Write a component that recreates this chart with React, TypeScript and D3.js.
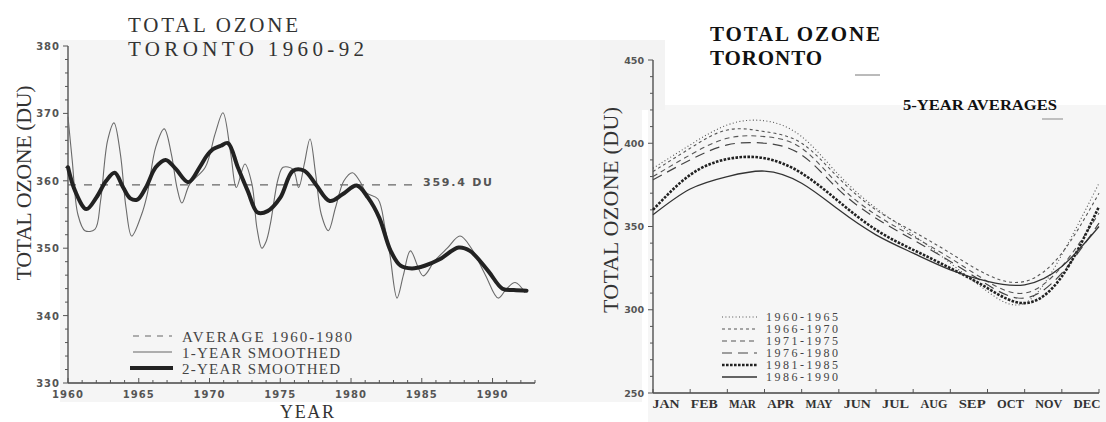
import React from 'react';
import * as d3 from 'd3';

// ---------- LEFT CHART DATA (Total ozone, Toronto 1960-92) ----------
const thinYears = [1960.0, 1960.3, 1960.7, 1961.2, 1961.9, 1962.3, 1962.8, 1963.25, 1963.7, 1964.1, 1964.5, 1965.2, 1965.6, 1966.2, 1966.8, 1967.3, 1967.7, 1968.05, 1968.6, 1969.7, 1970.4, 1970.95, 1971.5, 1971.9, 1972.5, 1973.0, 1973.35, 1973.7, 1974.0, 1974.3, 1974.85, 1975.2, 1975.9, 1976.3, 1976.7, 1977.1, 1977.5, 1977.9, 1978.4, 1978.9, 1979.5, 1980.1, 1980.6, 1981.1, 1981.9, 1982.4, 1982.75, 1983.25, 1983.7, 1984.2, 1985.1, 1985.9, 1986.8, 1987.7, 1988.5, 1989.5, 1990.4, 1991.0, 1991.6, 1992.3];
const thinValues = [369.5, 363, 355, 352.6, 352.8, 357, 366, 368.6, 364, 356, 351.8, 355, 358, 365, 367.7, 364, 359, 356.7, 359.5, 362, 367, 370.1, 364, 359, 362.5, 359.5, 353, 350, 351, 353.6, 360.3, 362, 361.7, 359, 362.5, 366.2, 361, 355, 352.6, 356, 360, 361.2, 360, 358.2, 357.3, 353, 349, 342.6, 346, 349.6, 345.9, 348.1, 350, 351.8, 350, 346, 342.6, 344, 344.9, 343.4];

const thickYears = [1960.0, 1960.5, 1961.3, 1962.0, 1962.7, 1963.3, 1963.9, 1964.4, 1964.9, 1965.5, 1966.2, 1966.9, 1967.6, 1968.5, 1969.3, 1969.8, 1970.25, 1970.8, 1971.3, 1972.0, 1972.7, 1973.4, 1974.1, 1975.0, 1975.9, 1976.7, 1977.5, 1978.5, 1979.4, 1980.4, 1981.2, 1982.0, 1982.8, 1983.5, 1984.3, 1985.2, 1986.3, 1987.6, 1988.4, 1989.7, 1990.7, 1991.5, 1992.4];
const thickValues = [362, 358.5, 355.8, 357.5, 360, 361.2, 359, 357.4, 357.2, 359, 362, 363.1, 361.8, 359.8, 362, 363.7, 364.7, 365.2, 365.6, 362, 358.5, 355.3, 355.5, 357.5, 361.5, 361.5, 359.5, 357, 358, 359.3, 357.5, 354.5, 349.6, 347.4, 347, 347.4, 348.4, 350.1, 349.6, 346.6, 344, 343.8, 343.7];

const averageValue = 359.4;
const averageYears = [1960, 1980];
const leftYTicks = [330, 340, 350, 360, 370, 380];
const leftXTicks = [1960, 1965, 1970, 1975, 1980, 1985, 1990];
const leftLegend = ['AVERAGE 1960-1980', '1-YEAR SMOOTHED', '2-YEAR SMOOTHED'];

// ---------- RIGHT CHART DATA (5-year averages by month) ----------
const monthLabels = ['JAN', 'FEB', 'MAR', 'APR', 'MAY', 'JUN', 'JUL', 'AUG', 'SEP', 'OCT', 'NOV', 'DEC'];
const monthPos = [0, 1, 2, 3, 4, 5, 6, 7, 8, 9, 10, 11, 12];
const avg1960_65 = [385, 399, 411, 413.5, 404, 381, 361, 345, 328, 311, 304, 333, 376];
const avg1966_70 = [383, 397, 408, 407, 400, 379, 360, 347, 334, 321, 317, 334, 370];
const avg1971_75 = [380, 393, 403, 404, 397, 375, 357, 344, 331, 317, 310, 326, 358];
const avg1976_80 = [378, 390, 399, 400, 393, 372, 355, 342, 329, 315, 307, 322, 352];
const avg1981_85 = [360, 381, 390.5, 391, 382, 365, 348, 336, 325, 313, 304, 320, 362];
const avg1986_90 = [357, 372.5, 380, 383.3, 376, 360, 345, 334, 324, 317, 315, 326, 350];
const rightSeriesNames = ['1960-1965', '1966-1970', '1971-1975', '1976-1980', '1981-1985', '1986-1990'];
const rightYTicks = [250, 300, 350, 400, 450];

const seriesData = [avg1960_65, avg1966_70, avg1971_75, avg1976_80, avg1981_85, avg1986_90];
const seriesStyle = [
  { dash: '1,2.4', width: 1.1, color: '#555' },
  { dash: '3,3', width: 1.1, color: '#555' },
  { dash: '5,4', width: 1.1, color: '#555' },
  { dash: '10,6', width: 1.2, color: '#444' },
  { dash: '2.6,1.4', width: 2.6, color: '#222' },
  { dash: null, width: 1.3, color: '#333' },
];

export default function App() {
  // left scales
  const lx = d3.scaleLinear().domain([1960, 1993]).range([68, 535]);
  const ly = d3.scaleLinear().domain([330, 380]).range([383, 46]);
  const leftLine = d3.line<[number, number]>().x(d => lx(d[0])).y(d => ly(d[1])).curve(d3.curveCatmullRom.alpha(0.5));
  const thinPath = leftLine(thinYears.map((y, i) => [y, thinValues[i]]) as [number, number][]) || '';
  const thickPath = leftLine(thickYears.map((y, i) => [y, thickValues[i]]) as [number, number][]) || '';
  const minorX = d3.range(1960, 1994, 1);
  const minorYL = d3.range(330, 381, 2);

  // right scales
  const rx = d3.scaleLinear().domain([0, 12]).range([653, 1099]);
  const ry = d3.scaleLinear().domain([250, 450]).range([393, 60]);
  const rLabel = d3.scalePoint<string>().domain(monthLabels).range([666, 1087]);
  const rightLine = d3.line<number>().x((_, i) => rx(monthPos[i])).y(d => ry(d)).curve(d3.curveNatural);
  const minorYR = d3.range(250, 451, 10);

  const serif = 'Liberation Serif, serif';
  const sans = 'DejaVu Sans, sans-serif';

  return (
    <svg width={1106} height={422} style={{ position: 'absolute', left: 0, top: 0, background: '#fff' }}>
      {/* scan backgrounds */}
      <rect x={60} y={40} width={582} height={362} fill="#f5f5f5" />
      <rect x={648} y={105} width={458} height={317} fill="#f6f6f6" />
      <rect x={600} y={40} width={65} height={70} fill="#f3f3f3" />

      {/* ================= LEFT CHART ================= */}
      <text x={128} y={32} fontFamily={serif} fontSize={21} fill="#333" textLength={170} lengthAdjust="spacing">TOTAL OZONE</text>
      <text x={128} y={56} fontFamily={serif} fontSize={21} fill="#333" textLength={236} lengthAdjust="spacing">TORONTO 1960-92</text>

      {/* axes */}
      <line x1={68} x2={68} y1={ly(380)} y2={ly(330)} stroke="#444" strokeWidth={1.3} />
      <line x1={68} x2={535} y1={ly(330)} y2={ly(330)} stroke="#444" strokeWidth={1.3} />
      {minorYL.map(v => (
        <line key={'lyt' + v} x1={v % 10 === 0 ? 63 : 65} x2={68} y1={ly(v)} y2={ly(v)} stroke="#555" strokeWidth={1} />
      ))}
      {minorX.map(v => (
        <line key={'lxt' + v} x1={lx(v)} x2={lx(v)} y1={ly(330)} y2={ly(330) - (v % 5 === 0 ? 5 : 3)} stroke="#555" strokeWidth={1} />
      ))}
      {leftYTicks.map(v => (
        <text key={'lyl' + v} x={60} y={ly(v) + 4} textAnchor="end" fontFamily={sans} fontWeight="bold" fontSize={10} letterSpacing={1} fill="#555">{v}</text>
      ))}
      {leftXTicks.map(v => (
        <text key={'lxl' + v} x={lx(v)} y={398} textAnchor="middle" fontFamily={sans} fontWeight="bold" fontSize={10} letterSpacing={1} fill="#555">{v}</text>
      ))}
      <text transform="translate(31,183) rotate(-90)" textAnchor="middle" fontFamily={serif} fontSize={22} fill="#333" textLength={195} lengthAdjust="spacing">TOTAL OZONE (DU)</text>
      <text x={280} y={418} fontFamily={serif} fontSize={18} fill="#333" textLength={54} lengthAdjust="spacing">YEAR</text>

      {/* average dashed */}
      <line x1={lx(averageYears[0])} x2={415} y1={ly(averageValue)} y2={ly(averageValue)} stroke="#666" strokeWidth={1.2} strokeDasharray="8,8" />
      <text x={423} y={186} fontFamily={sans} fontWeight="bold" fontSize={11} fill="#555" textLength={69} lengthAdjust="spacing">{averageValue} DU</text>

      {/* series */}
      <path d={thinPath} fill="none" stroke="#6a6a6a" strokeWidth={1.1} />
      <path d={thickPath} fill="none" stroke="#222" strokeWidth={4} strokeLinejoin="round" strokeLinecap="round" />

      {/* legend */}
      <line x1={133} x2={172} y1={336} y2={336} stroke="#666" strokeWidth={1.2} strokeDasharray="6,6" />
      <line x1={133} x2={172} y1={352} y2={352} stroke="#666" strokeWidth={1.1} />
      <line x1={130} x2={173} y1={368} y2={368} stroke="#222" strokeWidth={4} />
      {leftLegend.map((t, i) => (
        <text key={'ll' + i} x={182} y={342 + i * 16} fontFamily={serif} fontSize={15} fill="#444" textLength={i === 0 ? 170 : 158} lengthAdjust="spacing">{t}</text>
      ))}

      {/* ================= RIGHT CHART ================= */}
      <text x={710} y={41} fontFamily={serif} fontWeight="bold" fontSize={21} fill="#111" textLength={170} lengthAdjust="spacing">TOTAL OZONE</text>
      <text x={710} y={65} fontFamily={serif} fontWeight="bold" fontSize={21} fill="#111" textLength={112} lengthAdjust="spacing">TORONTO</text>
      <line x1={855} x2={880} y1={75} y2={75} stroke="#777" strokeWidth={1} />
      <text x={903} y={110} fontFamily={serif} fontWeight="bold" fontSize={14} fill="#111" textLength={154} lengthAdjust="spacingAndGlyphs">5-YEAR AVERAGES</text>
      <line x1={1042} x2={1063} y1={119} y2={119} stroke="#888" strokeWidth={1} />

      <line x1={653} x2={653} y1={ry(450)} y2={ry(250)} stroke="#444" strokeWidth={1.3} />
      <line x1={653} x2={1099} y1={ry(250)} y2={ry(250)} stroke="#444" strokeWidth={1.3} />
      {minorYR.map(v => (
        <line key={'ryt' + v} x1={v % 50 === 0 ? 648 : 650} x2={653} y1={ry(v)} y2={ry(v)} stroke="#555" strokeWidth={1} />
      ))}
      {monthPos.map(m => (
        <line key={'rxt' + m} x1={rx(m)} x2={rx(m)} y1={ry(250)} y2={ry(250) - 4} stroke="#555" strokeWidth={1} />
      ))}
      {rightYTicks.map(v => (
        <text key={'ryl' + v} x={644} y={ry(v) + 3.5} textAnchor="end" fontFamily={sans} fontWeight="bold" fontSize={9.5} fill="#555">{v}</text>
      ))}
      {monthLabels.map(m => (
        <text key={'rxl' + m} x={rLabel(m)} y={408} textAnchor="middle" fontFamily={serif} fontWeight="bold" fontSize={11.5} fill="#333" textLength={27} lengthAdjust="spacingAndGlyphs">{m}</text>
      ))}
      <text transform="translate(618,210) rotate(-90)" textAnchor="middle" fontFamily={serif} fontSize={22} fill="#333" textLength={206} lengthAdjust="spacing">TOTAL OZONE (DU)</text>

      {seriesData.map((s, i) => (
        <path key={'rs' + i} d={rightLine(s) || ''} fill="none" stroke={seriesStyle[i].color} strokeWidth={seriesStyle[i].width} strokeDasharray={seriesStyle[i].dash || undefined} />
      ))}

      {/* right legend */}
      {rightSeriesNames.map((n, i) => (
        <g key={'rl' + i}>
          <line x1={722} x2={757} y1={317 + i * 12} y2={317 + i * 12} stroke={seriesStyle[i].color} strokeWidth={seriesStyle[i].width} strokeDasharray={seriesStyle[i].dash || undefined} />
          <text x={766} y={321 + i * 12} fontFamily={serif} fontSize={12} fill="#444" textLength={72} lengthAdjust="spacing">{n}</text>
        </g>
      ))}
    </svg>
  );
}
